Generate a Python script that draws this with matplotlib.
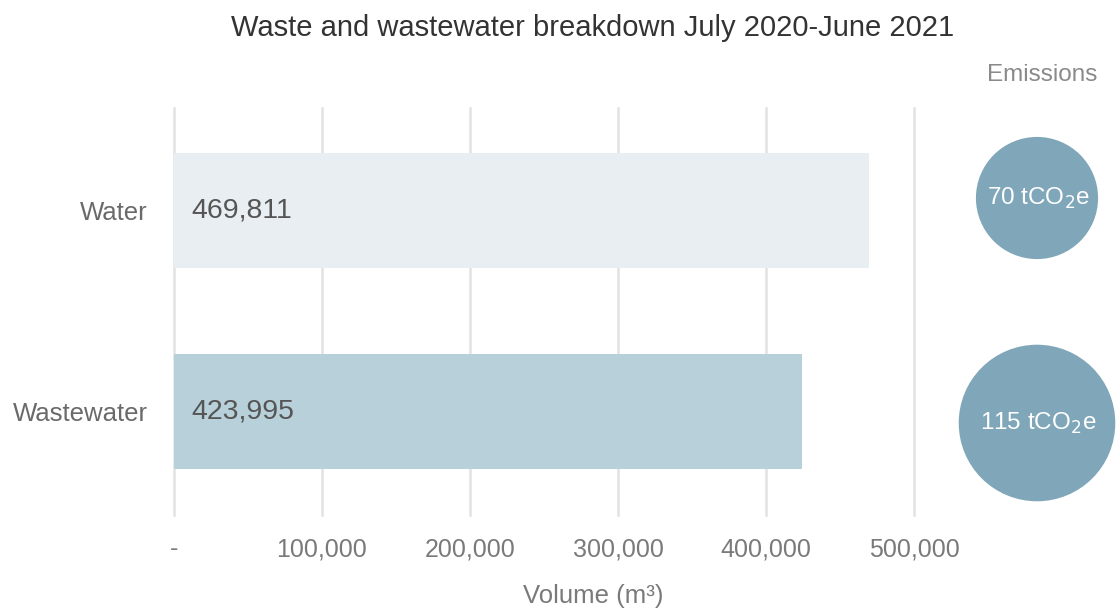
import matplotlib
matplotlib.use("Agg")
import matplotlib.pyplot as plt
from matplotlib.patches import Circle

categories = ["Water", "Wastewater"]
volumes = [469811, 423995]
emissions = [70, 115]
xticks = [0, 100000, 200000, 300000, 400000, 500000]
xtick_labels = ["-", "100,000", "200,000", "300,000", "400,000", "500,000"]

bar_colors = ["#E9EEF2", "#B8D0DA"]
circle_color = "#7FA7B9"

plt.rcParams["font.family"] = ["Liberation Sans", "DejaVu Sans"]

W, H = 1117, 614
fig = plt.figure(figsize=(W / 100, H / 100), dpi=100)

# main bar axes
left, right, top, bottom = 174, 914, 108, 515
ax = fig.add_axes([left / W, 1 - bottom / H, (right - left) / W, (bottom - top) / H])
ypos = list(range(len(categories)))
ax.barh(ypos, volumes, height=0.57, color=bar_colors, zorder=3)
ax.set_xlim(0, 500000)
ax.set_ylim(1.515, -0.51)
ax.set_xticks(xticks)
ax.set_xticklabels(xtick_labels, fontsize=18, color="#7a7a7a")
ax.set_yticks(ypos)
ax.set_yticklabels(categories, fontsize=18.5, color="#6a6a6a")
ax.tick_params(axis="both", length=0)
ax.tick_params(axis="x", pad=16)
ax.tick_params(axis="y", pad=19)
for xv in xticks:
    ax.axvline(xv, color="#E2E2E2", linewidth=1.8, zorder=0, clip_on=False)
for s in ax.spines.values():
    s.set_visible(False)

for y, v in zip(ypos, volumes):
    ax.text(11500, y, f"{v:,}", va="center", ha="left", fontsize=20.5, color="#555555", zorder=4)

# emissions bubbles, area proportional to value
cax = fig.add_axes([0, 0, 1, 1])
cax.set_xlim(0, W)
cax.set_ylim(H, 0)
cax.axis("off")
centers_y = [198, 423]
k = 7.3
for cy, e in zip(centers_y, emissions):
    r = k * e ** 0.5
    cax.add_patch(Circle((1037, cy), r, color=circle_color, lw=0))
    cax.text(1038, cy, f"{e} tCO$_2$e", ha="center", va="center", fontsize=17.5, color="white")

cax.text(1042, 75, "Emissions", ha="center", va="center", fontsize=17.5, color="#8a8a8a")
cax.text(593, 28, "Waste and wastewater breakdown July 2020-June 2021", ha="center", va="center",
         fontsize=21, color="#333333")
cax.text(593, 596, "Volume (m³)", ha="center", va="center", fontsize=18.5, color="#7a7a7a")

fig.savefig("out.png", dpi=100)
